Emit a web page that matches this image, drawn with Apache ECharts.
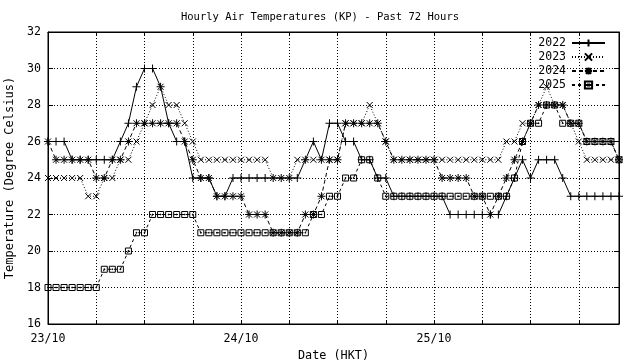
<!DOCTYPE html>
<html>
<head>
<meta charset="utf-8">
<script src="https://cdn.jsdelivr.net/npm/echarts@6/dist/echarts.min.js"></script>
<style>html,body{margin:0;padding:0;background:#fff}#c{width:640px;height:360px}</style>
</head>
<body>
<div id="c"></div>
<script>
// Day labels shown on the x axis (one every 24 hourly points)
const dayLabels = ['23/10', '24/10', '25/10'];
const seriesNames = ['2022', '2023', '2024', '2025'];
const yTicks = [16, 18, 20, 22, 24, 26, 28, 30, 32];

// Hourly temperatures (deg C), 72 points each
const t2022 = [26,26,26,25,25,25,25,25,25,26,
               27,29,30,30,29,27,26,26,24,24,
               24,23,23,24,24,24,24,24,24,24,
               24,24,25,26,25,27,27,26,26,25,
               25,24,24,23,23,23,23,23,23,23,
               22,22,22,22,22,22,22,23,24,25,
               24,25,25,25,24,23,23,23,23,23,
               23,23];
const t2023 = [24,24,24,24,24,23,23,24,24,25,
               25,26,27,28,29,28,28,27,26,25,
               25,25,25,25,25,25,25,25,24,24,
               24,25,25,25,25,25,25,27,27,27,
               28,27,26,25,25,25,25,25,25,25,
               25,25,25,25,25,25,25,26,26,27,
               27,28,29,28,28,27,26,25,25,25,
               25,25];
const t2024 = [26,25,25,25,25,25,24,24,25,25,
               26,27,27,27,27,27,27,26,25,24,
               24,23,23,23,23,22,22,22,21,21,
               21,21,22,22,23,25,25,27,27,27,
               27,27,26,25,25,25,25,25,25,24,
               24,24,24,23,23,22,23,24,25,26,
               27,28,28,28,28,27,27,26,26,26,
               26,25];
const t2025 = [18,18,18,18,18,18,18,19,19,19,
               20,21,21,22,22,22,22,22,22,21,
               21,21,21,21,21,21,21,21,21,21,
               21,21,21,22,22,23,23,24,24,25,
               25,24,23,23,23,23,23,23,23,23,
               23,23,23,23,23,23,23,23,24,26,
               27,27,28,28,27,27,27,26,26,26,
               26,25];

const values = [t2022, t2023, t2024, t2025];
const hours = t2022.map((_, i) => i);

const FONT = 'DejaVu Sans Mono';
const symbols = [
  'path://M0,4H8M4,0V8',
  'path://M0,0L6,6M0,6L6,0',
  'path://M0,4H8M4,0V8M1,1L7,7M1,7L7,1',
  'path://M0,0H6V6H0ZM2.6,2.6H3.4V3.4H2.6Z'
];
const symSizes = [8, 6, 8, 6];
const dashes = ['solid', [1, 2], [4, 3], [3, 3]];

const chart = echarts.init(document.getElementById('c'), null, {renderer: 'canvas'});
const every6 = (i) => i % 6 === 0;
const every24 = (i) => i % 24 === 0;

chart.setOption({
  animation: false,
  backgroundColor: '#fff',
  textStyle: {fontFamily: FONT, color: '#000'},
  title: {
    text: 'Hourly Air Temperatures (KP) - Past 72 Hours',
    left: 'center', top: 7,
    textStyle: {fontFamily: FONT, fontSize: 10.5, fontWeight: 'normal', color: '#000'}
  },
  legend: {
    orient: 'vertical', right: 34, top: 37, align: 'right',
    padding: 0, itemGap: 2, itemWidth: 33, itemHeight: 9,
    textStyle: {fontFamily: FONT, fontSize: 11.5, color: '#000', padding: [0, 1, 0, 0]},
    data: seriesNames
  },
  grid: {left: 48, right: 21, top: 32, bottom: 36, show: true, borderColor: '#000', borderWidth: 1, containLabel: false, outerBoundsMode: 'none'},
  xAxis: [{
    type: 'category', data: hours, boundaryGap: false, position: 'bottom',
    name: 'Date (HKT)', nameLocation: 'middle', nameGap: 18,
    nameTextStyle: {fontFamily: FONT, fontSize: 11.8, color: '#000'},
    axisLine: {show: true, lineStyle: {color: '#000', width: 1}},
    axisTick: {show: true, inside: true, length: 4, interval: every6, lineStyle: {color: '#000'}},
    axisLabel: {interval: every24, formatter: (v, i) => dayLabels[Math.floor(i / 24)], fontFamily: FONT, fontSize: 11.6, color: '#000', margin: 9, showMinLabel: true},
    splitLine: {show: true, interval: every6, lineStyle: {color: '#000', type: [1, 2], width: 1}}
  }, {
    type: 'category', data: hours, boundaryGap: false, position: 'top',
    axisLine: {show: true, lineStyle: {color: '#000'}},
    axisTick: {show: true, inside: true, length: 4, interval: every6, lineStyle: {color: '#000'}},
    axisLabel: {show: false}, splitLine: {show: false}
  }],
  yAxis: [{
    type: 'value', min: yTicks[0], max: yTicks[yTicks.length - 1], interval: 2, position: 'left',
    name: 'Temperature (Degree Celsius)', nameLocation: 'middle', nameGap: 32, nameRotate: 90,
    nameTextStyle: {fontFamily: FONT, fontSize: 12, color: '#000'},
    axisLine: {show: true, lineStyle: {color: '#000'}},
    axisTick: {show: true, inside: true, length: 5, lineStyle: {color: '#000'}},
    axisLabel: {fontFamily: FONT, fontSize: 11.6, color: '#000', margin: 7},
    splitLine: {show: true, lineStyle: {color: '#000', type: [1, 2], width: 1}}
  }, {
    type: 'value', min: yTicks[0], max: yTicks[yTicks.length - 1], interval: 2, position: 'right',
    axisLine: {show: true, lineStyle: {color: '#000'}},
    axisTick: {show: true, inside: true, length: 5, lineStyle: {color: '#000'}},
    axisLabel: {show: false}, splitLine: {show: false}
  }],
  series: seriesNames.map((name, k) => ({
    name: name, type: 'line', data: values[k],
    xAxisIndex: 0, yAxisIndex: 0,
    symbol: symbols[k], symbolSize: symSizes[k], showAllSymbol: true,
    lineStyle: {color: '#000', width: 1, type: dashes[k]},
    itemStyle: {color: 'rgba(0,0,0,0)', borderColor: '#000', borderWidth: 1},
    emphasis: {disabled: true}
  }))
});
</script>
</body>
</html>
